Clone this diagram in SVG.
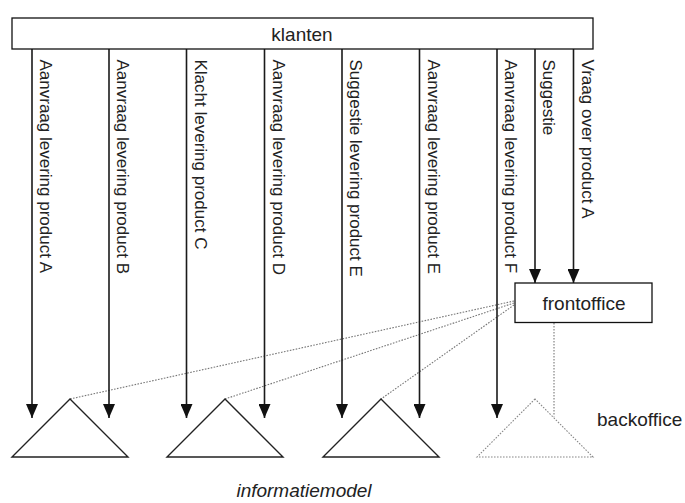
<svg xmlns="http://www.w3.org/2000/svg" width="685" height="503" viewBox="0 0 685 503">
  <style>
    .box { fill: #fff; stroke: #111; stroke-width: 1.3; }
    .lbl { font-family: "Liberation Sans", Arial, sans-serif; font-size: 19px; fill: #222; }
    .vlbl { font-family: "Liberation Sans", Arial, sans-serif; font-size: 17px; fill: #222; }
    .flow { stroke: #1a1a1a; stroke-width: 1.6; fill: none; }
    .dot { stroke: #777; stroke-width: 1.1; fill: none; stroke-dasharray: 1.6 1.4; }
    .tri { fill: #fff; stroke: #222; stroke-width: 1.4; }
    .tri-dot { fill: #fff; stroke: #888; stroke-width: 1.1; stroke-dasharray: 1.6 1.4; }
  </style>
  <defs>
    <marker id="ah" viewBox="0 0 14 12" refX="14" refY="6" markerWidth="14" markerHeight="12" markerUnits="userSpaceOnUse" orient="auto">
      <path d="M0,0 L14,6 L0,12 Z" fill="#111"/>
    </marker>
  </defs>
  <rect width="685" height="503" fill="#fff"/>

  <!-- dotted links from frontoffice and to the backoffice model -->
  <g id="links">
    <line class="dot" x1="514" y1="301" x2="70" y2="399"/>
    <line class="dot" x1="514" y1="303" x2="225" y2="399"/>
    <line class="dot" x1="514" y1="305" x2="381" y2="399"/>
    <line class="dot" x1="554" y1="323" x2="554" y2="416.5"/>
  </g>

  <!-- information models -->
  <g id="model1"><polygon class="tri" points="70,399 12,457 128,457"/></g>
  <g id="model2"><polygon class="tri" points="225,399 167,457 283,457"/></g>
  <g id="model3"><polygon class="tri" points="381,399 323,457 439,457"/></g>
  <g id="model4"><polygon class="tri-dot" points="535,399 477,457 593,457"/></g>

  <!-- customer requests -->
  <g id="connectors">
    <line class="flow" x1="32" y1="49" x2="32" y2="418" marker-end="url(#ah)"/>
    <line class="flow" x1="109" y1="49" x2="109" y2="418" marker-end="url(#ah)"/>
    <line class="flow" x1="186.5" y1="49" x2="186.5" y2="418" marker-end="url(#ah)"/>
    <line class="flow" x1="264.5" y1="49" x2="264.5" y2="418" marker-end="url(#ah)"/>
    <line class="flow" x1="342" y1="49" x2="342" y2="418" marker-end="url(#ah)"/>
    <line class="flow" x1="419.5" y1="49" x2="419.5" y2="418" marker-end="url(#ah)"/>
    <line class="flow" x1="497" y1="49" x2="497" y2="418" marker-end="url(#ah)"/>
    <line class="flow" x1="535" y1="49" x2="535" y2="283" marker-end="url(#ah)"/>
    <line class="flow" x1="573.5" y1="49" x2="573.5" y2="283" marker-end="url(#ah)"/>
  </g>

  <g id="request-labels">
    <text class="vlbl" transform="translate(40,59.5) rotate(90)">Aanvraag levering product A</text>
    <text class="vlbl" transform="translate(117,59.5) rotate(90)">Aanvraag levering product B</text>
    <text class="vlbl" transform="translate(194.5,59.5) rotate(90)">Klacht levering product C</text>
    <text class="vlbl" transform="translate(272.5,59.5) rotate(90)">Aanvraag levering product D</text>
    <text class="vlbl" transform="translate(350,59.5) rotate(90)">Suggestie levering product E</text>
    <text class="vlbl" transform="translate(427.5,59.5) rotate(90)">Aanvraag levering product E</text>
    <text class="vlbl" transform="translate(505,59.5) rotate(90)">Aanvraag levering product F</text>
    <text class="vlbl" transform="translate(543,59.5) rotate(90)">Suggestie</text>
    <text class="vlbl" transform="translate(581.5,59.5) rotate(90)">Vraag over product A</text>
  </g>

  <g id="klanten">
    <rect class="box" x="12" y="18" width="581" height="31"/>
    <text class="lbl" x="302" y="41" text-anchor="middle">klanten</text>
  </g>

  <g id="frontoffice">
    <rect class="box" x="515" y="283" width="137" height="39.5"/>
    <text class="lbl" x="584" y="309.5" text-anchor="middle">frontoffice</text>
  </g>

  <g id="backoffice">
    <text class="lbl" x="597" y="426">backoffice</text>
  </g>

  <g id="informatiemodel">
    <text class="lbl" x="304" y="497" text-anchor="middle" font-style="italic">informatiemodel</text>
  </g>
</svg>
